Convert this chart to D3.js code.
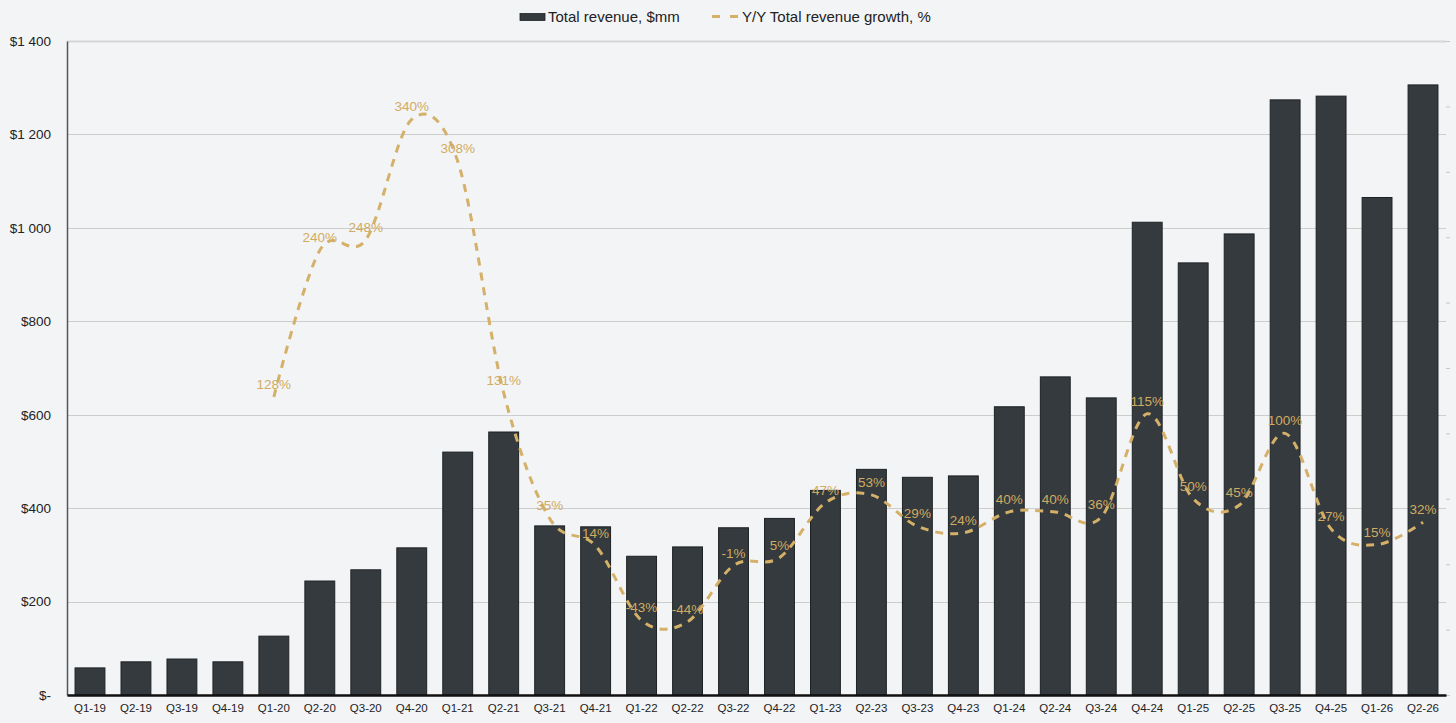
<!DOCTYPE html>
<html>
<head>
<meta charset="utf-8">
<script src="https://cdn.jsdelivr.net/npm/d3@7"></script>
<style>
  body { margin: 0; background: #f3f4f6; }
  svg { display: block; font-family: "Liberation Sans", Arial, sans-serif; }
</style>
</head>
<body>
<svg id="chart" width="1456" height="723"></svg>
<script>
var quarters = ["Q1-19","Q2-19","Q3-19","Q4-19","Q1-20","Q2-20","Q3-20","Q4-20","Q1-21","Q2-21",
  "Q3-21","Q4-21","Q1-22","Q2-22","Q3-22","Q4-22","Q1-23","Q2-23","Q3-23","Q4-23",
  "Q1-24","Q2-24","Q3-24","Q4-24","Q1-25","Q2-25","Q3-25","Q4-25","Q1-26","Q2-26"];

// total revenue, $mm
var revenue = [58, 71, 77, 71, 126, 244, 268, 315, 520, 563,
  362, 360, 297, 317, 358, 378, 438, 483, 466, 469,
  617, 681, 636, 1012, 925, 987, 1274, 1282, 1065, 1306];

// y/y growth, % (no value for the first year)
var growth = [null, null, null, null, 128, 240, 248, 340, 308, 131,
  35, 14, -43, -44, -1, 5, 47, 53, 29, 24,
  40, 40, 36, 115, 50, 45, 100, 27, 15, 32];

var revTicks = [0, 200, 400, 600, 800, 1000, 1200, 1400];
var growthTicks = [-100, -50, 0, 50, 100, 150, 200, 250, 300, 350, 400];

var svg = d3.select("#chart"),
    margin = {top: 41, left: 67, bottom: 28, right: 10},
    width = +svg.attr("width"),
    height = +svg.attr("height");

var x0 = margin.left, x1 = width - margin.right,
    yTop = margin.top, yBot = height - margin.bottom;

svg.append("rect").attr("width", width).attr("height", height).attr("fill", "#f3f4f6");

var x = d3.scaleBand()
  .domain(quarters)
  .range([x0, x1])
  .paddingInner(0.35)
  .paddingOuter(0.175);

var y = d3.scaleLinear().domain([0, 1400]).range([yBot, yTop]);
var y2 = d3.scaleLinear().domain([-100, 400]).range([yBot, yTop]);

// gridlines
svg.append("g")
  .selectAll("line")
  .data(revTicks.filter(function(d){ return d > 0; }))
  .enter().append("line")
  .attr("x1", x0).attr("x2", x1)
  .attr("y1", function(d){ return Math.round(y(d)) + 0.5; })
  .attr("y2", function(d){ return Math.round(y(d)) + 0.5; })
  .attr("stroke", function(d){ return d == 1400 ? "#d6d6d6" : "#cdcdcd"; })
  .attr("stroke-width", function(d){ return d == 1400 ? 2 : 1; });

// faint right axis ticks (labels hidden in the original)
svg.append("g")
  .attr("transform", "translate(" + x1 + ",0)")
  .call(d3.axisRight(y2).tickValues(growthTicks).tickSize(4).tickFormat(""))
  .call(function(g){
    g.select(".domain").remove();
    g.selectAll(".tick line").attr("stroke", "#c8c8c8");
  });

// left axis
svg.append("g")
  .attr("transform", "translate(" + x0 + ",0)")
  .call(d3.axisLeft(y).tickValues(revTicks).tickSize(0).tickPadding(16)
    .tickFormat(function(d){ return d == 0 ? "$-" : "$" + d3.format(",")(d).replace(",", " "); }))
  .call(function(g){
    g.select(".domain").attr("stroke", "#555").attr("stroke-width", 1.5);
    g.selectAll(".tick text").attr("fill", "#222").style("font-size", "13.5px");
  });

// bars
svg.append("g")
  .selectAll("rect")
  .data(quarters)
  .enter().append("rect")
  .attr("x", function(d){ return x(d); })
  .attr("y", function(d, i){ return y(revenue[i]); })
  .attr("width", x.bandwidth())
  .attr("height", function(d, i){ return yBot - y(revenue[i]); })
  .attr("fill", "#343a3d")
  .attr("stroke", "#1d2225")
  .attr("stroke-width", 1);

// bottom axis
svg.append("g")
  .attr("transform", "translate(0," + yBot + ")")
  .call(d3.axisBottom(x).tickSize(0).tickPadding(9))
  .call(function(g){
    g.select(".domain").attr("stroke", "#111").attr("stroke-width", 2.5);
    g.selectAll(".tick text").attr("fill", "#222").style("font-size", "11.5px");
  });

// growth line
var pts = quarters.map(function(q, i){ return {q: q, g: growth[i]}; })
  .filter(function(d){ return d.g != null; });

var line = d3.line()
  .x(function(d){ return x(d.q) + x.bandwidth() / 2; })
  .y(function(d){ return y2(d.g); })
  .curve(d3.curveCardinal.tension(0));

svg.append("path")
  .datum(pts)
  .attr("d", line)
  .attr("fill", "none")
  .attr("stroke", "#d4b069")
  .attr("stroke-width", 3)
  .attr("stroke-dasharray", "8,7")
  .attr("stroke-linecap", "butt");

svg.append("g")
  .selectAll("text")
  .data(pts)
  .enter().append("text")
  .attr("x", function(d){ return x(d.q) + x.bandwidth() / 2; })
  .attr("y", function(d){ return y2(d.g) - 8; })
  .attr("text-anchor", "middle")
  .attr("fill", "#d1ab62")
  .style("font-size", "13.5px")
  .text(function(d){ return d.g + "%"; });

// legend
var legend = svg.append("g").style("font-size", "15px").attr("fill", "#222");
legend.append("rect")
  .attr("x", 520).attr("y", 13.5).attr("width", 25).attr("height", 7)
  .attr("fill", "#343a3d").attr("stroke", "#1d2225").attr("stroke-width", 0.8);
legend.append("text").attr("x", 548).attr("y", 22).text("Total revenue, $mm");
legend.append("line")
  .attr("x1", 712).attr("x2", 739).attr("y1", 16.5).attr("y2", 16.5)
  .attr("stroke", "#d4b069").attr("stroke-width", 3).attr("stroke-dasharray", "8,10");
legend.append("text").attr("x", 742).attr("y", 22).text("Y/Y Total revenue growth, %");
</script>
</body>
</html>
